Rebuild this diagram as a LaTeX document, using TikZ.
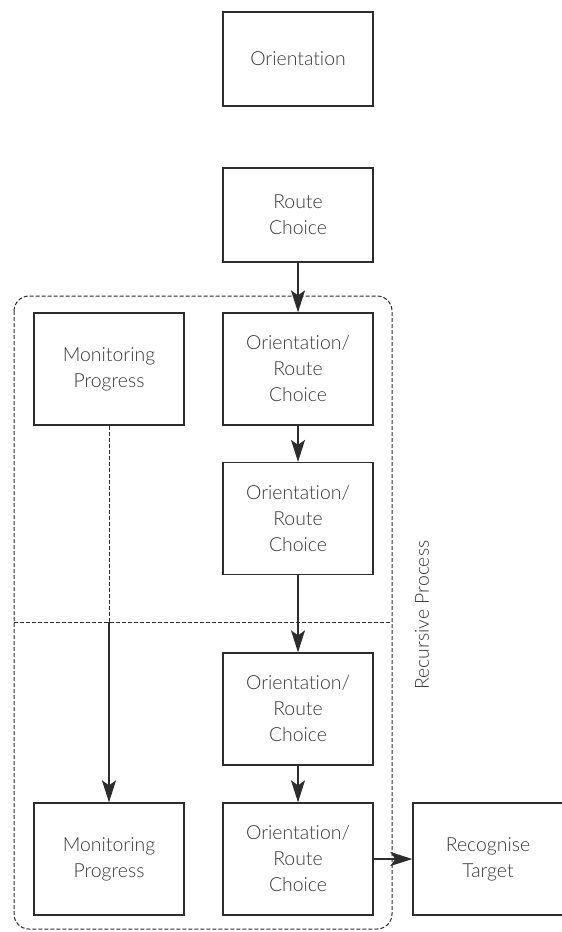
\documentclass[tikz,border=0pt]{standalone}
\usepackage{fontspec}
\setmainfont{Lato}[UprightFont=* Light, Ligatures={NoCommon}]
\usepackage{tikz}
\usetikzlibrary{arrows.meta,positioning,calc}
\definecolor{lineGray}{RGB}{45,45,45}
\definecolor{textGray}{RGB}{55,55,55}

\begin{document}
\begin{tikzpicture}[x=0.5pt, y=-0.5pt,
    stagebox/.style={draw=lineGray, line width=0.65pt, minimum width=75pt, minimum height=56pt,
      font=\fontsize{9.7}{13}\selectfont, text=textGray, align=center, inner sep=0pt},
    topbox/.style={stagebox, minimum height=47pt},
    flow/.style={draw=lineGray, line width=0.65pt, -{Stealth[length=11pt, width=7pt, inset=2.5pt]}},
    framedash/.style={draw=lineGray, line width=0.5pt, dash pattern=on 2pt off 1pt}]
  \useasboundingbox (0,0) rectangle (562,932);

  % Recursive process frame
  \draw[framedash, rounded corners=7.5pt] (14,296) rectangle (392,929);
  \draw[framedash] (14,622) -- (392,622);
  \node[font=\fontsize{9.7}{13}\selectfont, text=textGray, rotate=90] (rec) at (422,615) {Recursive Process};

  % Top stages
  \node[topbox] (orient) at (298,59) {Orientation};
  \node[topbox] (route) at (298,215) {Route\\Choice};

  % Inside the frame
  \node[stagebox] (mon1) at (109,369) {Monitoring\\Progress};
  \node[stagebox] (or1) at (298,369) {Orientation/\\Route\\Choice};
  \node[stagebox] (or2) at (298,518.5) {Orientation/\\Route\\Choice};
  \node[stagebox] (or3) at (298,709) {Orientation/\\Route\\Choice};
  \node[stagebox] (or4) at (298,859) {Orientation/\\Route\\Choice};
  \node[stagebox] (mon2) at (109,859) {Monitoring\\Progress};
  \node[stagebox] (target) at (488,859) {Recognise\\Target};

  % Connectors
  \draw[flow] (route) -- (or1);
  \draw[flow] (or1) -- (or2);
  \draw[flow] (or2) -- (or3);
  \draw[flow] (or3) -- (or4);
  \draw[flow] (or4) -- (target);
  \coordinate (split) at (mon1.south |- 0,622);
  \draw[framedash] (mon1) -- (split);
  \draw[flow] (split) -- (mon2);
\end{tikzpicture}
\end{document}
